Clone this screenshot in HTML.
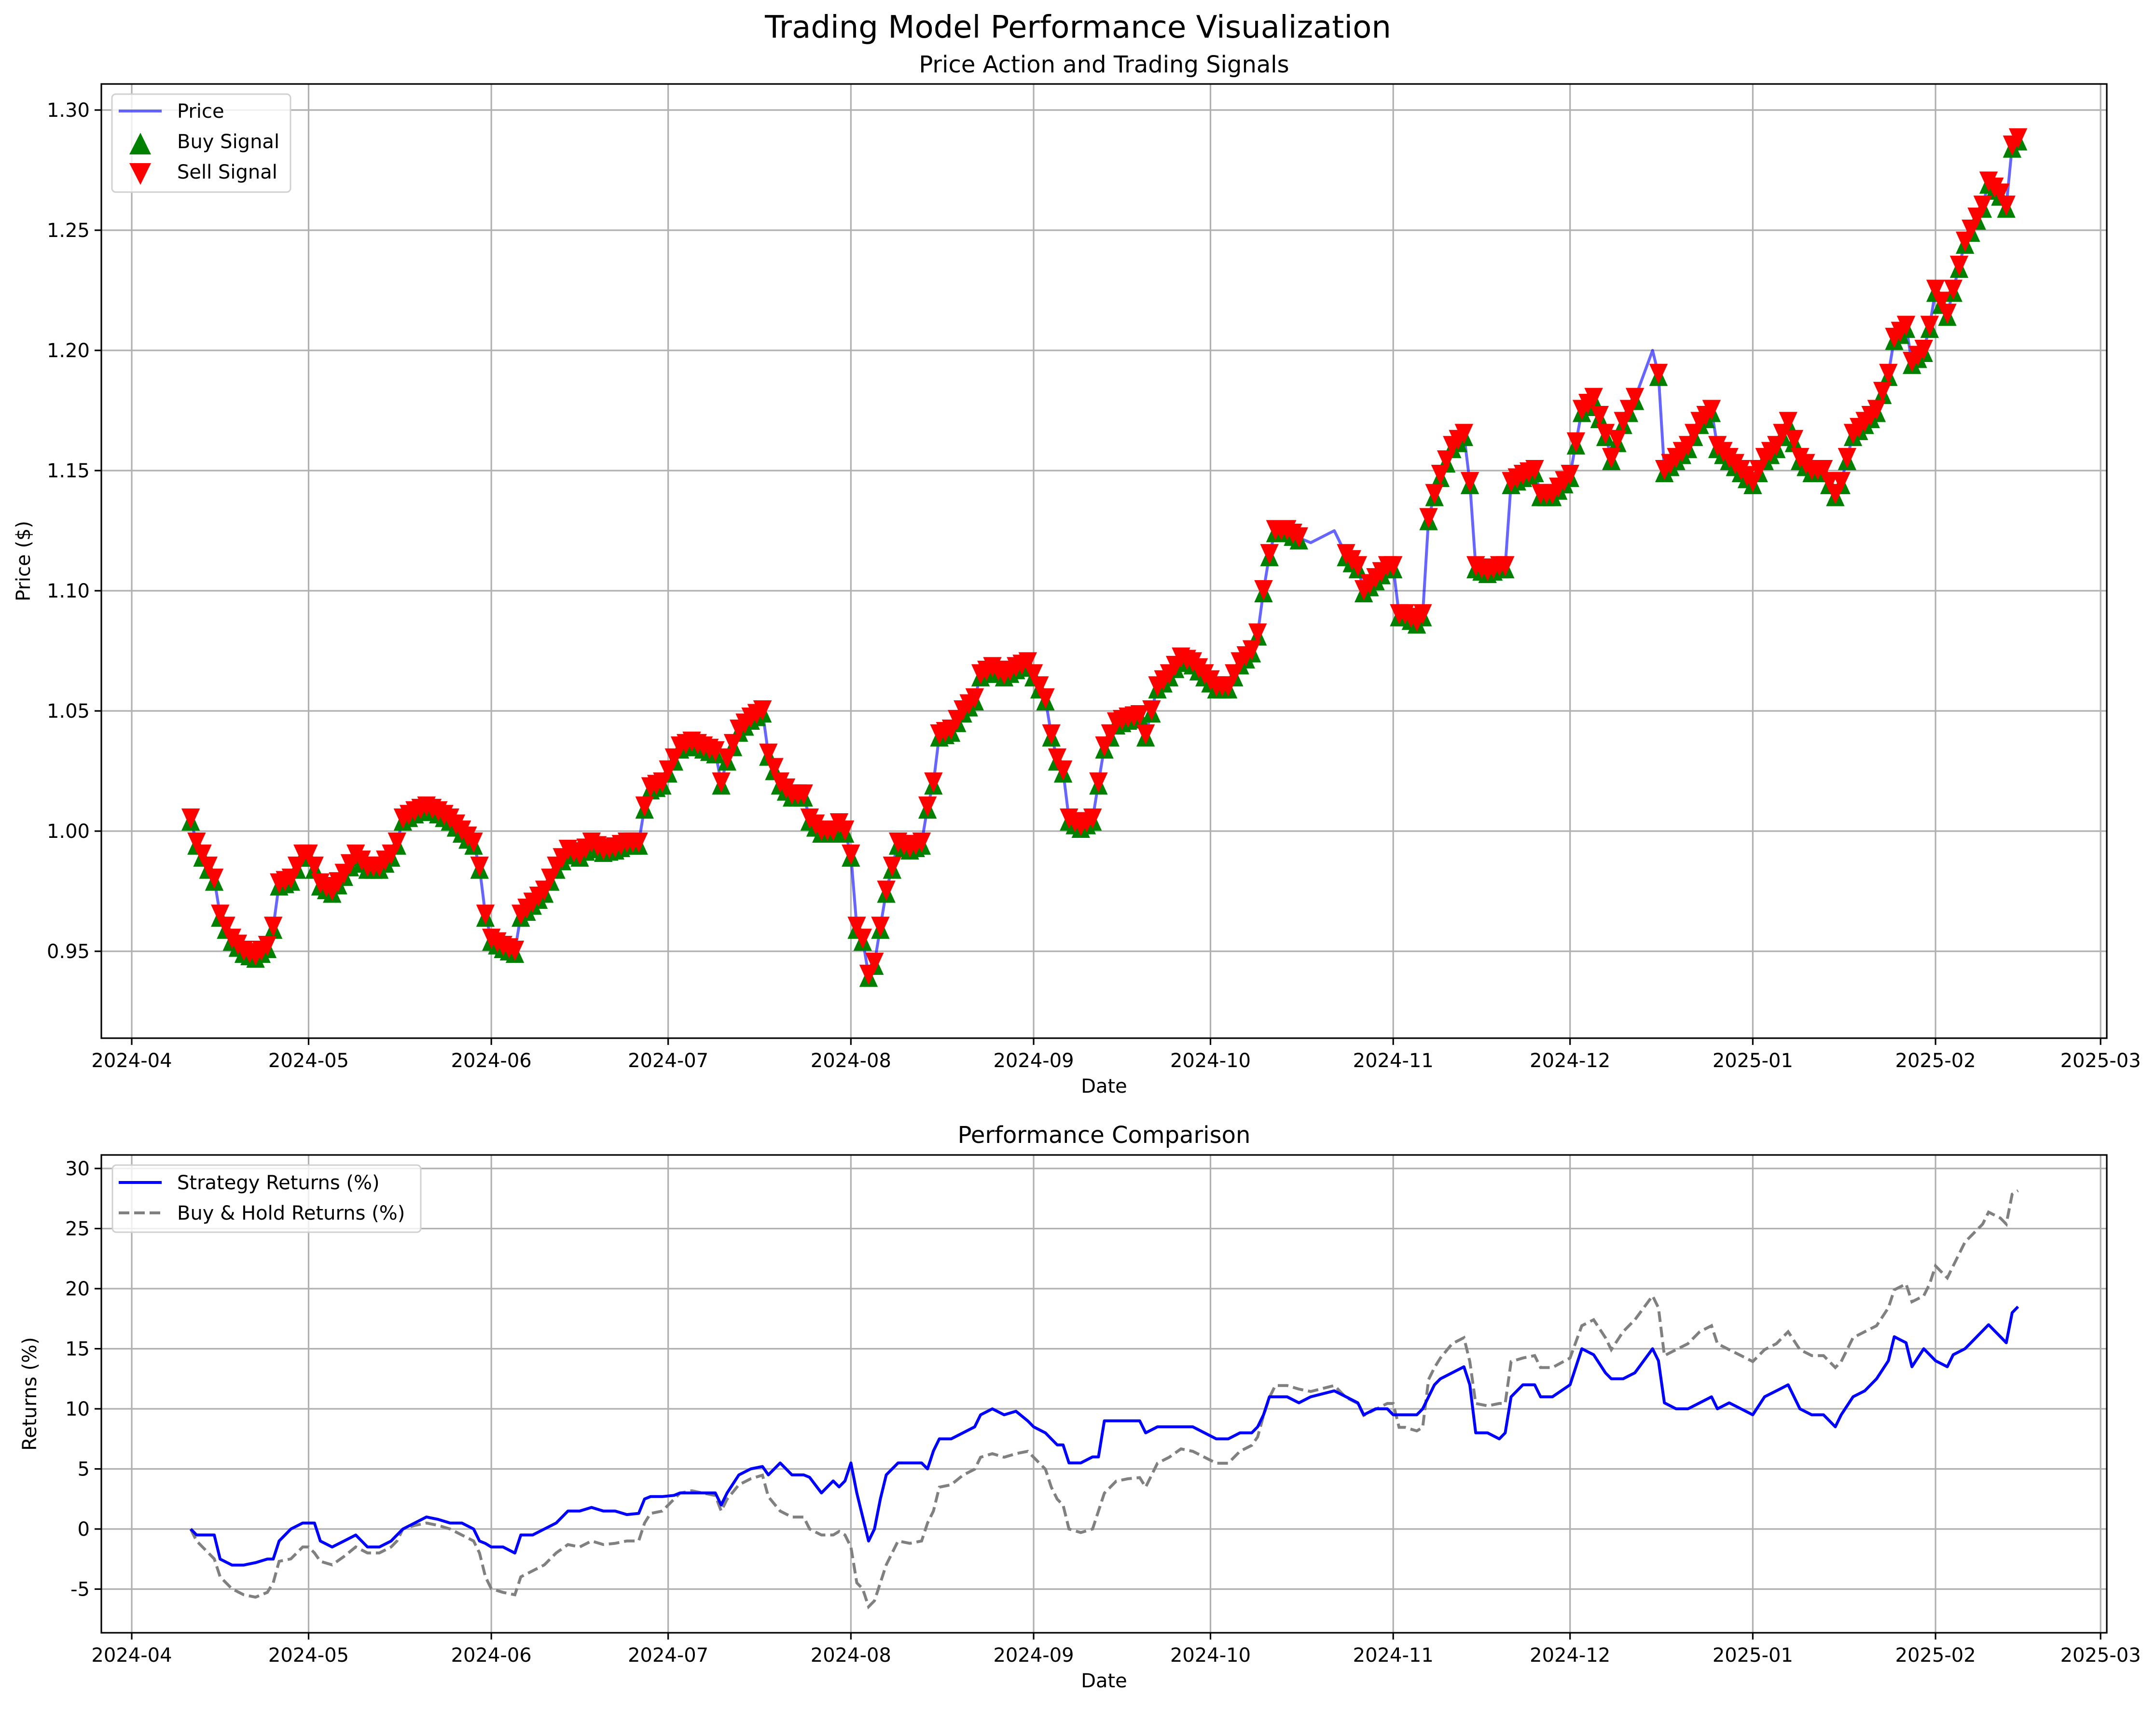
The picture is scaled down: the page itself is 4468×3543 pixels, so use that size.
<!DOCTYPE html>
<html><head><meta charset="utf-8">
<style>
html,body{margin:0;padding:0;background:#fff;}
svg{display:block;font-family:"DejaVu Sans","Liberation Sans",sans-serif;}
</style></head>
<body>
<svg id="chart" width="4468" height="3543" viewBox="0 0 4468 3543" xmlns="http://www.w3.org/2000/svg">
<rect width="4468" height="3543" fill="#fff"/>
<text x="2234" y="78" text-anchor="middle" font-size="64">Trading Model Performance Visualization</text>
<text x="2288" y="150" text-anchor="middle" font-size="48">Price Action and Trading Signals</text>
<text x="2288" y="2368" text-anchor="middle" font-size="48">Performance Comparison</text>
<g id="top"></g>
<g id="bot"></g>
</svg>
<script>
const days=[10,11,12,14,15,17,19,21,23,24,25,27,29,30,31,32,34,36,38,40,42,44,45,46,48,50,52,54,56,58,59,60,61,63,65,66,68,70,72,74,76,78,80,82,84,86,87,88,90,92,93,95,97,99,100,101,103,105,107,108,110,112,114,115,117,119,120,121,122,123,124,125,126,127,128,130,132,134,135,136,137,139,141,143,144,146,148,150,152,153,155,156,157,158,159,161,163,164,165,167,169,171,172,174,176,178,180,182,184,186,188,190,191,192,193,194,196,198,200,204,206,208,209,211,213,214,215,216,218,219,220,221,222,224,226,227,228,230,232,233,234,236,238,239,241,244,246,248,250,251,253,255,258,259,260,262,264,266,268,269,271,273,275,277,279,281,283,285,287,289,290,292,294,296,298,299,301,302,304,305,306,308,309,311,312,314,315,317,318,319,320];
const prices=[1.005,0.995,0.99,0.98,0.965,0.955,0.95,0.948,0.952,0.96,0.978,0.98,0.99,0.99,0.985,0.978,0.975,0.982,0.99,0.985,0.985,0.99,0.995,1.005,1.008,1.01,1.008,1.005,1.0,0.995,0.985,0.965,0.955,0.952,0.95,0.965,0.97,0.975,0.985,0.992,0.99,0.995,0.992,0.993,0.995,0.995,1.01,1.018,1.02,1.03,1.035,1.037,1.035,1.033,1.02,1.03,1.042,1.047,1.05,1.032,1.02,1.015,1.015,1.005,1.0,1.0,1.003,1.0,0.99,0.96,0.955,0.94,0.945,0.96,0.975,0.995,0.993,0.995,1.01,1.02,1.04,1.042,1.05,1.055,1.065,1.068,1.065,1.068,1.07,1.065,1.055,1.04,1.03,1.025,1.005,1.002,1.005,1.02,1.035,1.045,1.047,1.048,1.04,1.06,1.065,1.072,1.07,1.065,1.06,1.06,1.07,1.075,1.082,1.1,1.115,1.125,1.125,1.122,1.12,1.125,1.115,1.11,1.1,1.105,1.11,1.11,1.09,1.09,1.087,1.09,1.13,1.14,1.148,1.16,1.165,1.145,1.11,1.108,1.11,1.11,1.145,1.148,1.15,1.14,1.14,1.148,1.175,1.18,1.165,1.155,1.17,1.18,1.2,1.19,1.15,1.155,1.16,1.17,1.175,1.16,1.155,1.15,1.145,1.155,1.16,1.17,1.155,1.15,1.15,1.14,1.145,1.165,1.17,1.175,1.19,1.205,1.21,1.195,1.2,1.21,1.225,1.215,1.225,1.245,1.25,1.26,1.27,1.265,1.26,1.285,1.288];
const strategy=[0,-0.5,-0.5,-0.5,-2.5,-3,-3,-2.8,-2.5,-2.5,-1,0,0.5,0.5,0.5,-1,-1.5,-1,-0.5,-1.5,-1.5,-1,-0.5,0,0.5,1,0.8,0.5,0.5,0,-1,-1.2,-1.5,-1.5,-2,-0.5,-0.5,0,0.5,1.5,1.5,1.8,1.5,1.5,1.2,1.3,2.5,2.7,2.7,2.8,3,3,3,3,2,3,4.5,5,5.2,4.5,5.5,4.5,4.5,4.3,3,4,3.5,4,5.5,3,1,-1,0,2.5,4.5,5.5,5.5,5.5,5,6.5,7.5,7.5,8,8.5,9.5,10,9.5,9.8,9,8.5,8,7.5,7,7,5.5,5.5,6,6,9,9,9,9,8,8.5,8.5,8.5,8.5,8,7.5,7.5,8,8,8.5,9.5,11,11,11,10.5,11,11.5,11,10.5,9.5,10,10,9.5,9.5,9.5,9.5,10,11,12,12.5,13,13.5,12,8,8,7.5,8,11,12,12,11,11,12,15,14.5,13,12.5,12.5,13,15,14,10.5,10,10,10.5,11,10,10.5,10,9.5,11,11.5,12,10,9.5,9.5,8.5,9.5,11,11.5,12.5,14,16,15.5,13.5,15,14.5,14,13.5,14.5,15,15.5,16.5,17,16,15.5,18,18.5];
const noSignalStart=[199,256];
const noSignalEnd=[205,258];
const monthLabels=["2024-04","2024-05","2024-06","2024-07","2024-08","2024-09","2024-10","2024-11","2024-12","2025-01","2025-02","2025-03"];
const monthDays=[0,30,61,91,122,153,183,214,244,275,306,334];
const priceTicks=[0.95,1.00,1.05,1.10,1.15,1.20,1.25,1.30];
const returnTicks=[-5,0,5,10,15,20,25,30];

const NS="http://www.w3.org/2000/svg";
function mk(parent,tag,attrs,text){const e=document.createElementNS(NS,tag);for(const k in attrs)e.setAttribute(k,attrs[k]);if(text!==undefined)e.textContent=text;parent.appendChild(e);return e;}
const X=d=>273+d*12.216;
const L=210,R=4366;
const Ytop=v=>228+(1.30-v)*4980;
const Ybot=v=>3168-v*24.9;
function priceAt(d){
  for(let i=0;i<days.length-1;i++){
    if(d>=days[i]&&d<=days[i+1]){const t=(d-days[i])/(days[i+1]-days[i]);return prices[i]+(prices[i+1]-prices[i])*t;}
  }
  return prices[prices.length-1];
}
function inGap(d){for(let k=0;k<noSignalStart.length;k++){if(d>=noSignalStart[k]&&d<=noSignalEnd[k])return true;}return false;}

function axes(g,top,bottom,ticks,yf,fmt,ylabel,ylx){
  mk(g,'rect',{x:L,y:top,width:R-L,height:bottom-top,fill:'#fff'});
  monthDays.forEach((d,i)=>{
    const x=X(d);
    const gl=mk(g,'line',{x1:x,y1:top,x2:x,y2:bottom,stroke:'#b0b0b0','stroke-width':3.2});
    
    
    mk(g,'line',{x1:x,y1:bottom,x2:x,y2:bottom+14,stroke:'#000','stroke-width':3.2});
    const t=mk(g,'text',{x:x,y:bottom+60,'text-anchor':'middle','font-size':40},monthLabels[i]);
    
    
  });
  ticks.forEach(v=>{
    const y=yf(v);
    const gl=mk(g,'line',{x1:L,y1:y,x2:R,y2:y,stroke:'#b0b0b0','stroke-width':3.2});
    
    
    mk(g,'line',{x1:L-14,y1:y,x2:L,y2:y,stroke:'#000','stroke-width':3.2});
    const t=mk(g,'text',{x:L-24,y:y+14,'text-anchor':'end','font-size':40},fmt(v));
    
    
  });
  const xl=mk(g,'text',{x:(L+R)/2,y:bottom+113,'text-anchor':'middle','font-size':40},'Date');
  
  
  const yl=mk(g,'text',{x:ylx,y:(top+bottom)/2,'text-anchor':'middle','font-size':40,transform:`rotate(-90 ${ylx} ${(top+bottom)/2})`},ylabel);
  
  
}
function frame(g,top,bottom){mk(g,'rect',{x:L,y:top,width:R-L,height:bottom-top,fill:'none',stroke:'#000','stroke-width':3.2});}

// TOP
const gt=document.getElementById('top');
axes(gt,174,2151,priceTicks,Ytop,v=>v.toFixed(2),'Price ($)',62);
const pricePts=days.map((d,i)=>X(d).toFixed(1)+','+Ytop(prices[i]).toFixed(1)).join(' ');
const pl=mk(gt,'polyline',{points:pricePts,fill:'none',stroke:'#0000ff','stroke-opacity':0.6,'stroke-width':6,'stroke-linejoin':'round'});


const S=24;
const sigDays=[];
for(let d=days[0];d<=days[days.length-1];d++){if(!inGap(d))sigDays.push(d);}
sigDays.forEach(d=>{
  const x=X(d),y=Ytop(priceAt(d))+6;
  const b=mk(gt,'polygon',{points:`${x},${y-S} ${x-S*0.8},${y+S*0.75} ${x+S*0.8},${y+S*0.75}`,fill:'#008000'});
  
  
});
sigDays.forEach(d=>{
  const x=X(d),y=Ytop(priceAt(d))-4;
  const s=mk(gt,'polygon',{points:`${x},${y+S} ${x-S*0.8},${y-S*0.75} ${x+S*0.8},${y-S*0.75}`,fill:'#ff0000'});
  
  
});
frame(gt,174,2151);
const lg=mk(gt,'g',{});


mk(lg,'rect',{x:232,y:195,width:370,height:203,rx:8,fill:'#fff','fill-opacity':0.8,stroke:'#d0d0d0','stroke-width':3});
mk(lg,'line',{x1:246,y1:230,x2:335,y2:230,stroke:'#0000ff','stroke-opacity':0.6,'stroke-width':6});
mk(lg,'text',{x:367,y:244,'font-size':40},'Price');
mk(lg,'polygon',{points:'291,275 268,320 313,320',fill:'#008000'});
mk(lg,'text',{x:367,y:307,'font-size':40},'Buy Signal');
mk(lg,'polygon',{points:'291,383 268,338 313,338',fill:'#ff0000'});
mk(lg,'text',{x:367,y:370,'font-size':40},'Sell Signal');

// BOTTOM
const gb=document.getElementById('bot');
axes(gb,2393,3383,returnTicks,Ybot,v=>String(v),'Returns (%)',75);
const p0=prices[0];
const bhPts=days.map((d,i)=>X(d).toFixed(1)+','+Ybot((prices[i]/p0-1)*100).toFixed(1)).join(' ');
const bh=mk(gb,'polyline',{points:bhPts,fill:'none',stroke:'#808080','stroke-width':6,'stroke-dasharray':'22 10'});


const stPts=days.map((d,i)=>X(d).toFixed(1)+','+Ybot(strategy[i]).toFixed(1)).join(' ');
const st=mk(gb,'polyline',{points:stPts,fill:'none',stroke:'#0000ff','stroke-width':6,'stroke-linejoin':'round'});


frame(gb,2393,3383);
const lb=mk(gb,'g',{});


mk(lb,'rect',{x:233,y:2414,width:639,height:139,rx:8,fill:'#fff','fill-opacity':0.8,stroke:'#d0d0d0','stroke-width':3});
mk(lb,'line',{x1:246,y1:2450,x2:335,y2:2450,stroke:'#0000ff','stroke-width':6});
mk(lb,'text',{x:367,y:2464,'font-size':40},'Strategy Returns (%)');
mk(lb,'line',{x1:246,y1:2513,x2:335,y2:2513,stroke:'#808080','stroke-width':6,'stroke-dasharray':'22 10'});
mk(lb,'text',{x:367,y:2527,'font-size':40},'Buy & Hold Returns (%)');
</script>
</body></html>
